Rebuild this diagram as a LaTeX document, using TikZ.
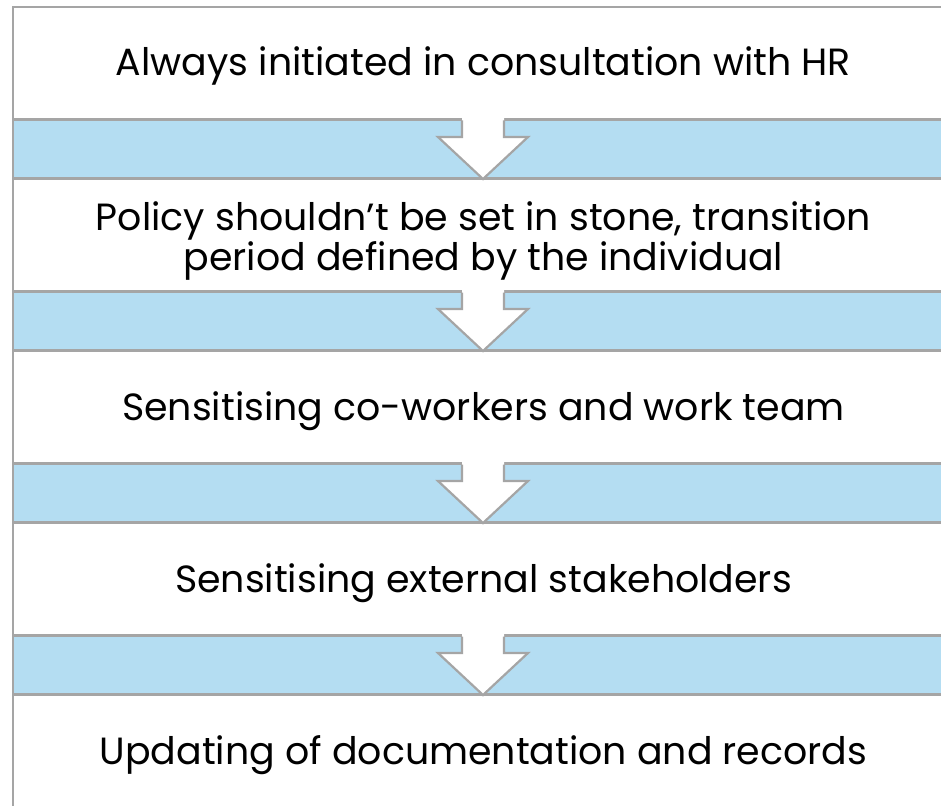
\documentclass[tikz,border=0pt]{standalone}
\usepackage{fontspec}
\setmainfont{Poppins}
\definecolor{bandblue}{HTML}{B4DDF2}
\definecolor{linegray}{HTML}{A5A5A5}
\begin{document}
\begin{tikzpicture}[x=1pt,y=-1pt,
  stepbox/.style={draw=linegray, line width=2.2pt, fill=white},
  band/.style={draw=linegray, line width=2.2pt, fill=bandblue},
  arrowfill/.style={fill=white, draw=none},
  arrowline/.style={draw=linegray, line width=2.2pt, line join=miter},
  label/.style={font=\fontsize{37.9}{40}\selectfont, align=center, text=black, inner sep=0pt, anchor=base}]
\useasboundingbox (0,0) rectangle (941,805);
\clip (0,0) rectangle (941,805);
% white boxes
\foreach \i in {0,...,4} {
  \pgfmathsetmacro{\t}{7+172*\i}
  \draw[stepbox] (13,\t) rectangle (960,\t+112);
}
% blue bands with arrows
\foreach \i in {0,...,3} {
  \pgfmathsetmacro{\t}{120+172*\i}
  \draw[band] (13,\t) rectangle (960,\t+58);
  \fill[arrowfill] (462,\t-2) -- (462,\t+17) -- (438,\t+17) -- (483,\t+59) -- (528,\t+17) -- (504,\t+17) -- (504,\t-2) -- cycle;
  \draw[arrowline] (462,\t+0.5) -- (462,\t+17) -- (438,\t+17) -- (483,\t+59) -- (528,\t+17) -- (504,\t+17) -- (504,\t+0.5);
}
% texts
\node[label] (s1) at (483.5,76) {Always initiated in consultation with HR};
\node[label] (s2) at (483.5,270) {Policy shouldn’t be set in stone, transition\\period defined by the individual};
\node[label] (s3) at (483.5,420) {Sensitising co-workers and work team};
\node[label] (s4) at (483.5,592) {Sensitising external stakeholders};
\node[label] (s5) at (483.5,764) {Updating of documentation and records};
\end{tikzpicture}
\end{document}
